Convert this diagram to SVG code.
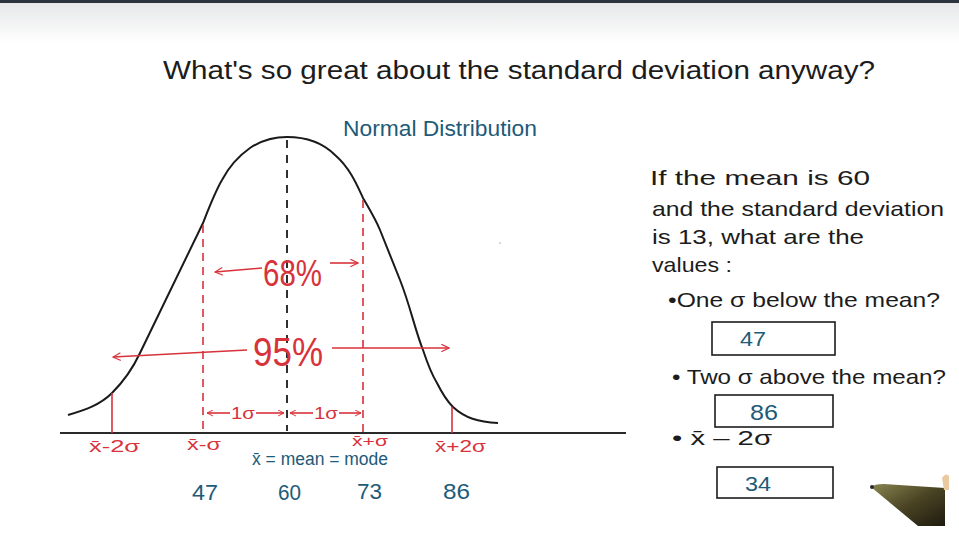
<svg xmlns="http://www.w3.org/2000/svg" width="959" height="540" viewBox="0 0 959 540">
<defs>
<linearGradient id="topfade" x1="0" y1="0" x2="0" y2="1">
<stop offset="0" stop-color="#e6e7e8"/>
<stop offset="1" stop-color="#ffffff"/>
</linearGradient>
<linearGradient id="pen" x1="0" y1="0" x2="1" y2="1">
<stop offset="0" stop-color="#8a8650"/>
<stop offset="0.5" stop-color="#4a4424"/>
<stop offset="1" stop-color="#1e1a0e"/>
</linearGradient>
<marker id="ah" viewBox="0 0 10 10" refX="9" refY="5" markerWidth="9" markerHeight="9" orient="auto-start-reverse" markerUnits="userSpaceOnUse">
<path d="M1,1 L9,5 L1,9" fill="none" stroke="#d8323a" stroke-width="1.3" stroke-linecap="round"/>
</marker>
<marker id="ahs" viewBox="0 0 10 10" refX="9" refY="5" markerWidth="7" markerHeight="7" orient="auto-start-reverse" markerUnits="userSpaceOnUse">
<path d="M1,1 L9,5 L1,9" fill="none" stroke="#d8323a" stroke-width="1.4" stroke-linecap="round"/>
</marker>
</defs>
<style>
.hand{font-family:"Liberation Sans","DejaVu Sans",sans-serif}
.blk{fill:#1c1c1c}
.red{fill:#d8323a}
.teal{fill:#1d5b78}
.rl{stroke:#d8323a;stroke-width:1.6;fill:none}
.dash{stroke-dasharray:8 6}
.box{fill:none;stroke:#1c1c1c;stroke-width:1.6}
</style>
<rect x="0" y="0" width="959" height="540" fill="#ffffff"/>
<rect x="0" y="3" width="959" height="40" fill="url(#topfade)"/>
<rect x="0" y="0" width="959" height="3" fill="#2b3340"/>

<g id="title">
<text class="hand blk" x="163" y="79" font-size="26" textLength="712" lengthAdjust="spacingAndGlyphs">What's so great about the standard deviation anyway?</text>
</g>

<g id="chart">
<text class="hand teal" x="343" y="136" font-size="22" textLength="194" lengthAdjust="spacingAndGlyphs">Normal Distribution</text>
<line x1="60" y1="433" x2="626" y2="433" stroke="#2a2a2a" stroke-width="1.8"/>
<path d="M68,415 C85,410 100,405 112,393 C125,380 133,368 140,353 L203,223 C210,205 215,192 222,180 C230,165 240,155 250,148 C262,140 275,137 287,137 C300,137 320,140 335,155 C350,168 357,185 363,198 C370,210 376,220 380,230 L400,280 C410,305 415,330 423,350 C428,365 432,375 437,383 C443,395 448,402 453,407 C465,418 478,422 498,423" fill="none" stroke="#1a1a1a" stroke-width="2"/>
<line x1="287" y1="140" x2="287" y2="431" stroke="#1a1a1a" stroke-width="1.8" stroke-dasharray="8 7"/>
<line class="rl dash" x1="203" y1="225" x2="203" y2="433"/>
<line class="rl dash" x1="363" y1="200" x2="363" y2="433"/>
<line class="rl" x1="112" y1="393" x2="112" y2="433"/>
<line class="rl" x1="452" y1="407" x2="452" y2="433"/>

<line class="rl" x1="215" y1="272" x2="262" y2="268" marker-start="url(#ah)"/>
<text class="hand red" x="263" y="286" font-size="36" textLength="59" lengthAdjust="spacingAndGlyphs">68%</text>
<line class="rl" x1="330" y1="263" x2="358" y2="263" marker-end="url(#ah)"/>

<line class="rl" x1="113" y1="357" x2="247" y2="350" marker-start="url(#ah)"/>
<text class="hand red" x="253" y="366" font-size="40" textLength="70" lengthAdjust="spacingAndGlyphs">95%</text>
<line class="rl" x1="332" y1="348" x2="449" y2="348" marker-end="url(#ah)"/>

<line class="rl" x1="207" y1="413" x2="230" y2="413" marker-start="url(#ahs)"/>
<text class="hand red" x="231" y="419" font-size="17" textLength="24" lengthAdjust="spacingAndGlyphs">1σ</text>
<line class="rl" x1="256" y1="413" x2="284" y2="413" marker-end="url(#ahs)"/>
<line class="rl" x1="290" y1="413" x2="313" y2="413" marker-start="url(#ahs)"/>
<text class="hand red" x="314" y="419" font-size="17" textLength="24" lengthAdjust="spacingAndGlyphs">1σ</text>
<line class="rl" x1="339" y1="413" x2="361" y2="413" marker-end="url(#ahs)"/>

<text class="hand red" x="89" y="452" font-size="16" textLength="51" lengthAdjust="spacingAndGlyphs">x&#x304;-2σ</text>
<text class="hand red" x="187" y="450" font-size="16" textLength="34" lengthAdjust="spacingAndGlyphs">x&#x304;-σ</text>
<text class="hand red" x="352" y="446" font-size="14" textLength="36" lengthAdjust="spacingAndGlyphs">x&#x304;+σ</text>
<text class="hand teal" x="252" y="465" font-size="18" textLength="136" lengthAdjust="spacingAndGlyphs">x&#x304; = mean = mode</text>
<text class="hand red" x="435" y="452" font-size="16" textLength="51" lengthAdjust="spacingAndGlyphs">x&#x304;+2σ</text>

<text class="hand teal" x="192" y="500" font-size="22" textLength="26" lengthAdjust="spacingAndGlyphs">47</text>
<text class="hand teal" x="278" y="500" font-size="22" textLength="23" lengthAdjust="spacingAndGlyphs">60</text>
<text class="hand teal" x="357" y="499" font-size="22" textLength="25" lengthAdjust="spacingAndGlyphs">73</text>
<text class="hand teal" x="443" y="499" font-size="22" textLength="27" lengthAdjust="spacingAndGlyphs">86</text>
<circle cx="500" cy="243" r="0.8" fill="#9aa"/>
</g>

<g id="question">
<text class="hand blk" x="650" y="185" font-size="21" textLength="220" lengthAdjust="spacingAndGlyphs">If the mean is 60</text>
<text class="hand blk" x="652" y="216" font-size="21" textLength="292" lengthAdjust="spacingAndGlyphs">and the standard deviation</text>
<text class="hand blk" x="652" y="244" font-size="21" textLength="212" lengthAdjust="spacingAndGlyphs">is 13, what are the</text>
<text class="hand blk" x="652" y="272" font-size="21" textLength="80" lengthAdjust="spacingAndGlyphs">values :</text>
</g>

<g id="q1">
<text class="hand blk" x="668" y="307" font-size="21" textLength="272" lengthAdjust="spacingAndGlyphs">•One σ below the mean?</text>
<rect class="box" x="712" y="322" width="123" height="33"/>
<text class="hand teal" x="740" y="346" font-size="21" textLength="26" lengthAdjust="spacingAndGlyphs">47</text>
</g>

<g id="q2">
<text class="hand blk" x="672" y="384" font-size="21" textLength="274" lengthAdjust="spacingAndGlyphs">• Two σ above the mean?</text>
<rect class="box" x="715" y="395" width="118" height="32"/>
<text class="hand teal" x="750" y="420" font-size="22" textLength="28" lengthAdjust="spacingAndGlyphs">86</text>
</g>

<g id="q3">
<text class="hand blk" x="672" y="445" font-size="21" textLength="100" lengthAdjust="spacingAndGlyphs">•  x&#x304; – 2σ</text>
<rect class="box" x="717" y="467" width="116" height="31"/>
<text class="hand teal" x="745" y="491" font-size="21" textLength="26" lengthAdjust="spacingAndGlyphs">34</text>
</g>

<g id="pen-tip">
<path d="M871,487 Q874,484 884,484 L945,488 L945,526 L918,526 Z" fill="url(#pen)"/>
<circle cx="872" cy="487" r="2" fill="#2a2a2a"/>
<path d="M942,478 Q946,472 949,476 L949,490 L944,490 Z" fill="#e8c9a0"/>
</g>
</svg>
